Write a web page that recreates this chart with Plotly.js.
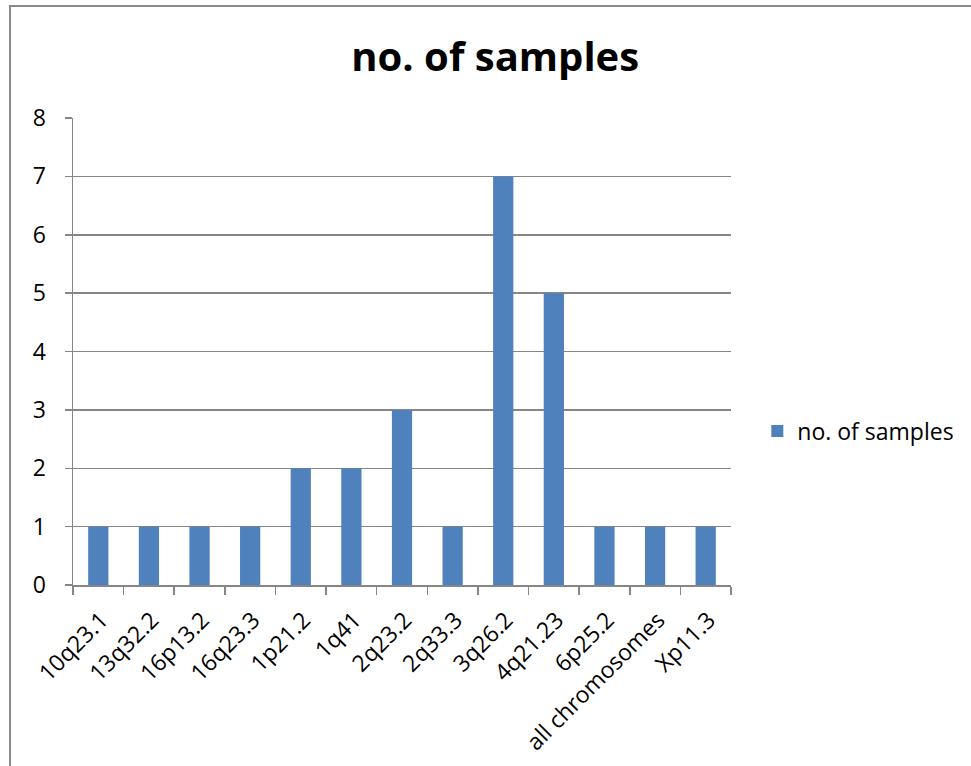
<!DOCTYPE html>
<html>
<head>
<meta charset="utf-8">
<script src="https://cdn.plot.ly/plotly-3.0.1.min.js"></script>
<style>
  html, body { margin: 0; padding: 0; background: #ffffff; }
  #chart { position: absolute; left: 0; top: 0; width: 971px; height: 766px; }
  #frame { position: absolute; left: 9px; top: 5px; width: 980px; height: 800px;
           border: 2px solid #8a8a8a; pointer-events: none; box-sizing: border-box; }
</style>
</head>
<body>
<div id="chart"></div>
<div id="frame"></div>
<script>
const categories = ["10q23.1", "13q32.2", "16p13.2", "16q23.3", "1p21.2", "1q41", "2q23.2",
                    "2q33.3", "3q26.2", "4q21.23", "6p25.2", "all chromosomes", "Xp11.3"];
const samples = [1, 1, 1, 1, 2, 2, 3, 1, 7, 5, 1, 1, 1];
const seriesName = "no. of samples";
const yTicks = [0, 1, 2, 3, 4, 5, 6, 7, 8];

const FONT = "Open Sans, Noto Sans, sans-serif";

const trace = {
  type: "bar",
  x: categories,
  y: samples,
  name: seriesName,
  marker: { color: "#4F81BD", line: { width: 0 } },
  hoverinfo: "x+y"
};

const layout = {
  width: 971,
  height: 766,
  margin: { l: 73, r: 238, t: 118, b: 181, pad: 0 },
  paper_bgcolor: "#ffffff",
  plot_bgcolor: "#ffffff",
  font: { family: FONT, size: 23, color: "#000000" },
  title: {
    text: "<b>" + seriesName + "</b>",
    font: { family: FONT, size: 40, color: "#000000" },
    xref: "container", yref: "container",
    x: 0.51, xanchor: "center",
    y: 1 - 57 / 766, yanchor: "middle"
  },
  bargap: 0.6,
  showlegend: true,
  legend: {
    x: 1.04, xanchor: "left",
    y: (585 - 431) / 467, yanchor: "middle",
    font: { family: FONT, size: 23, color: "#000000" },
    bgcolor: "rgba(0,0,0,0)",
    borderwidth: 0
  },
  xaxis: {
    type: "category",
    tickangle: -45,
    tickson: "boundaries",
    ticks: "outside",
    ticklen: 8,
    tickwidth: 1.5,
    tickcolor: "#868686",
    showline: true,
    linecolor: "#868686",
    linewidth: 1.5,
    showgrid: false,
    zeroline: false,
    ticklabelshift: 3,
    ticklabelstandoff: 11,
    tickfont: { family: FONT, size: 23, color: "#000000" },
    fixedrange: true
  },
  yaxis: {
    range: [0, 8],
    tickvals: yTicks,
    ticktext: yTicks.map(String),
    ticks: "outside",
    ticklen: 7,
    tickwidth: 1.5,
    tickcolor: "#868686",
    showline: true,
    linecolor: "#868686",
    linewidth: 1.5,
    showgrid: true,
    gridcolor: "#868686",
    gridwidth: 1.5,
    zeroline: false,
    ticklabelstandoff: 14,
    tickfont: { family: FONT, size: 23, color: "#000000" },
    fixedrange: true
  }
};

Plotly.newPlot("chart", [trace], layout, { displayModeBar: false, staticPlot: true });
</script>
</body>
</html>
